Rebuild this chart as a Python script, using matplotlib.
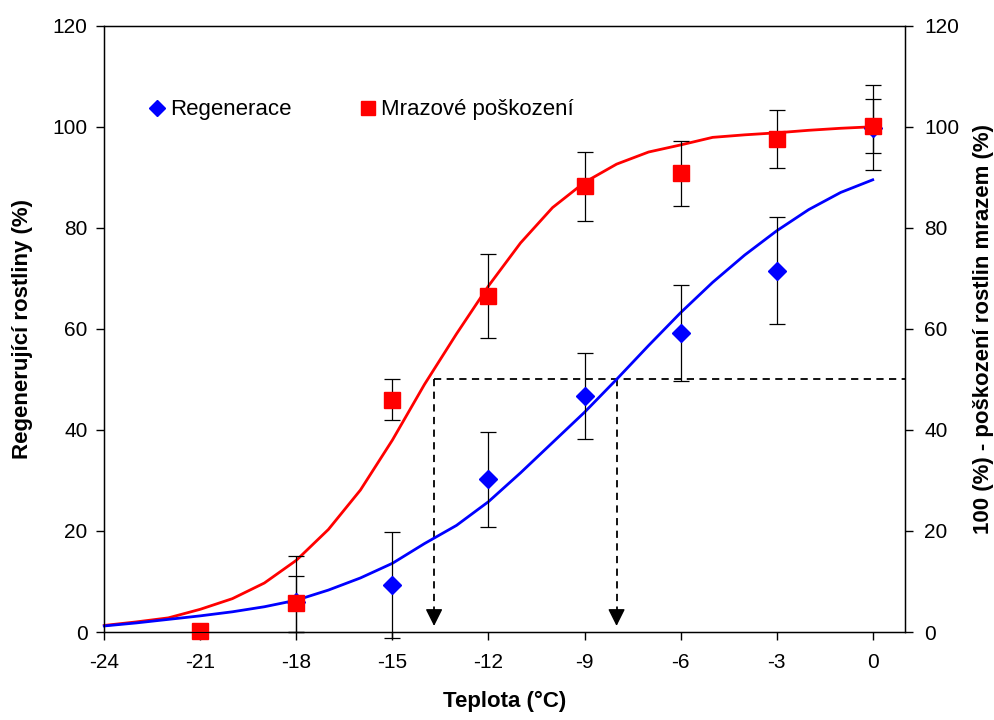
import matplotlib
matplotlib.use("Agg")
import matplotlib.pyplot as plt
import numpy as np

plt.rcParams['font.family'] = ['Liberation Sans', 'DejaVu Sans']

# measured points
regen_x = [-18, -15, -12, -9, -6, -3, 0]
regen = [6.0, 9.3, 30.2, 46.8, 59.1, 71.5, 99.8]
regen_err_lo = [6.0, 10.4, 9.4, 8.5, 9.5, 10.6, 8.4]
regen_err_hi = [5.0, 10.4, 9.4, 8.5, 9.5, 10.6, 8.4]

damage_x = [-21, -18, -15, -12, -9, -6, -3, 0]
damage = [0.2, 5.7, 46.0, 66.5, 88.2, 90.8, 97.6, 100.2]
damage_err_lo = [0.0, 5.7, 4.0, 8.4, 6.8, 6.4, 5.8, 5.3]
damage_err_hi = [0.0, 9.3, 4.0, 8.4, 6.8, 6.4, 5.8, 5.3]

# fitted curves
curve_x = [-24, -23, -22, -21, -20, -19, -18, -17, -16, -15, -14, -13, -12,
           -11, -10, -9, -8, -7, -6, -5, -4, -3, -2, -1, 0]
regen_fit = [1.2, 1.8, 2.5, 3.2, 4.0, 5.0, 6.3, 8.3, 10.7, 13.6, 17.5, 21.1, 25.8,
             31.5, 37.5, 43.5, 50.0, 56.7, 63.2, 69.2, 74.6, 79.4, 83.6, 87.0, 89.5]
damage_fit = [1.3, 2.0, 2.8, 4.5, 6.6, 9.7, 14.2, 20.3, 28.1, 38.0, 49.0, 59.0, 68.5,
              77.0, 84.0, 89.0, 92.6, 95.0, 96.4, 97.9, 98.4, 98.8, 99.3, 99.7, 100.0]

# LT50 values
lt50_damage = -13.7
lt50_regen = -8.0
level50 = 50
arrow_tip = 1.2

xticks = [-24, -21, -18, -15, -12, -9, -6, -3, 0]
yticks = [0, 20, 40, 60, 80, 100, 120]

fig = plt.figure(figsize=(9.94, 7.2), dpi=100)
ax = fig.add_axes([0.1049, 0.1222, 0.8053, 0.8421])

ax.plot(curve_x, damage_fit, color='#ff0000', lw=2.0, zorder=3, clip_on=False)
ax.plot(curve_x, regen_fit, color='#0000ff', lw=2.0, zorder=3, clip_on=False)

# dashed guide lines
ax.plot([lt50_damage, 1], [level50, level50], color='black', lw=1.3,
        ls=(0, (4, 3)), zorder=2)
for xv in [lt50_damage, lt50_regen]:
    ax.plot([xv, xv], [level50, arrow_tip + 2], color='black', lw=1.3,
            ls=(0, (4, 3)), zorder=2)
    ax.annotate('', xy=(xv, arrow_tip), xytext=(xv, arrow_tip + 2.5),
                arrowprops=dict(arrowstyle='-|>,head_length=0.7,head_width=0.35',
                                color='black', lw=1.0, mutation_scale=15,
                                shrinkA=0, shrinkB=0), zorder=2)

ax.errorbar(regen_x, regen, yerr=[regen_err_lo, regen_err_hi], fmt='none',
            ecolor='black', elinewidth=0.9, capsize=6, capthick=0.9,
            zorder=4, clip_on=False)
ax.errorbar(damage_x, damage, yerr=[damage_err_lo, damage_err_hi], fmt='none',
            ecolor='black', elinewidth=0.9, capsize=6, capthick=0.9,
            zorder=4, clip_on=False)

ax.plot(regen_x, regen, ls='none', marker='D', ms=9.5, color='#0000ff',
        zorder=5, clip_on=False, label='Regenerace')
ax.plot(damage_x, damage, ls='none', marker='s', ms=12, color='#ff0000',
        zorder=6, clip_on=False, label='Mrazové poškození')

ax.set_xlim(-24, 1)
ax.set_ylim(0, 120)
ax.set_xticks(xticks)
ax.set_xticklabels([str(v) for v in xticks])
ax.set_yticks(yticks)
ax.tick_params(axis='both', direction='out', length=6, width=1,
               labelsize=15, pad=6)
ax.tick_params(axis='x', pad=9)
for s in ax.spines.values():
    s.set_linewidth(1.0)

ax2 = ax.twinx()
ax2.set_ylim(0, 120)
ax2.set_yticks(yticks)
ax2.tick_params(axis='y', direction='out', length=6, width=1,
                labelsize=15, pad=8)

ax.set_xlabel('Teplota (°C)', fontsize=16, fontweight='bold', labelpad=14)
ax.set_ylabel('Regenerující rostliny (%)', fontsize=16, fontweight='bold', labelpad=14)
ax2.set_ylabel('100 (%) - poškození rostlin mrazem (%)', fontsize=16,
               fontweight='bold', labelpad=10)

ax.legend(loc='center left', bbox_to_anchor=(0.03, 0.861), ncol=2,
          frameon=False, fontsize=16, handlelength=0.8, handletextpad=0.2,
          columnspacing=3.0, markerscale=0.85)

fig.savefig('out.png', dpi=100)
